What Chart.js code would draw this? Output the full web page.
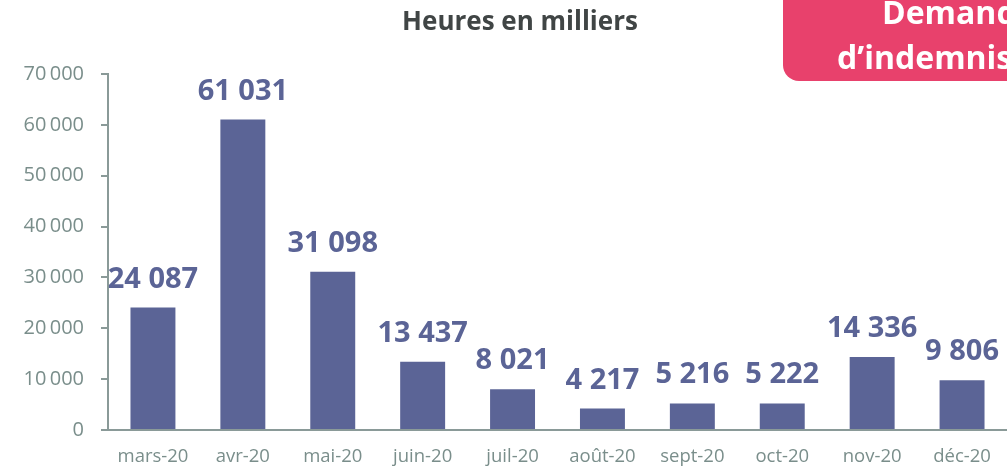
<!DOCTYPE html>
<html lang="fr">
<head>
<meta charset="utf-8">
<title>Heures en milliers</title>
<script src="https://cdn.jsdelivr.net/npm/chart.js@4.4.0/dist/chart.umd.min.js"></script>
<style>
  html, body { margin: 0; padding: 0; background: #fff; overflow: hidden; }
  #wrap { position: relative; width: 1007px; height: 473px; overflow: hidden; }
  #badge {
    position: absolute; left: 783px; top: -20px; width: 340px; height: 101px;
    background: #E8416C; border-radius: 16px;
    font-family: "Open Sans", sans-serif; font-weight: 700; font-size: 32px;
    color: #fff; white-space: nowrap;
  }
  #badge span { position: absolute; }
</style>
</head>
<body>
<div id="wrap">
  <canvas id="chart" width="1007" height="473"></canvas>
  <div id="badge">
    <span style="left:99px; top:10px;">Demandes</span>
    <span style="left:54px; top:55px;">d’indemnisation</span>
  </div>
</div>
<script>
// Données (heures en milliers)
const months = ['mars-20', 'avr-20', 'mai-20', 'juin-20', 'juil-20', 'août-20', 'sept-20', 'oct-20', 'nov-20', 'déc-20'];
const hours = [24087, 61031, 31098, 13437, 8021, 4217, 5216, 5222, 14336, 9806];
const yTicks = [0, 10000, 20000, 30000, 40000, 50000, 60000, 70000];

const barColor = '#5B6496';
const axisColor = '#8A9A98';
const tickColor = '#7A8E8B';

function formatThousands(v, sep) {
    return String(v).replace(/\B(?=(\d{3})+(?!\d))/g, sep);
}

// Valeurs au-dessus des barres + titre
const valueLabels = {
    id: 'valueLabels',
    afterDatasetsDraw(chart) {
        const ctx = chart.ctx;
        const meta = chart.getDatasetMeta(0);
        ctx.save();
        ctx.fillStyle = barColor;
        ctx.font = 'bold 29px "Open Sans"';
        ctx.textAlign = 'center';
        ctx.textBaseline = 'alphabetic';
        meta.data.forEach((bar, i) => {
            ctx.fillText(formatThousands(hours[i], ' '), bar.x, bar.y - 20);
        });
        ctx.restore();
    },
    afterDraw(chart) {
        const ctx = chart.ctx;
        ctx.save();
        ctx.fillStyle = '#404545';
        ctx.font = 'bold 26px "Open Sans"';
        ctx.textAlign = 'center';
        ctx.textBaseline = 'alphabetic';
        ctx.fillText('Heures en milliers', 520, 30);
        ctx.restore();
    }
};

new Chart(document.getElementById('chart'), {
    type: 'bar',
    data: {
        labels: months,
        datasets: [{
            data: hours,
            backgroundColor: barColor,
            categoryPercentage: 1,
            barPercentage: 0.5
        }]
    },
    options: {
        responsive: false,
        animation: false,
        layout: { padding: { top: 74, right: 0, bottom: 0, left: 0 } },
        plugins: {
            legend: { display: false },
            tooltip: { enabled: false }
        },
        scales: {
            x: {
                grid: { display: false },
                border: { display: true, color: axisColor, width: 2 },
                ticks: {
                    color: tickColor,
                    font: { family: 'Open Sans', size: 18.5 },
                    padding: 8,
                    maxRotation: 0
                },
                afterFit(scale) { scale.height = 43; }
            },
            y: {
                min: 0,
                max: 70000,
                afterBuildTicks(scale) {
                    scale.ticks = yTicks.map(v => ({ value: v }));
                },
                grid: {
                    drawOnChartArea: false,
                    drawTicks: true,
                    tickLength: 7,
                    color: axisColor,
                    lineWidth: 2
                },
                border: { display: true, color: axisColor, width: 2 },
                ticks: {
                    color: tickColor,
                    font: { family: 'Open Sans', size: 20 },
                    padding: 17,
                    callback: v => formatThousands(v, '\u2009')
                },
                afterFit(scale) { scale.width = 108; }
            }
        }
    },
    plugins: [valueLabels]
});
</script>
</body>
</html>
